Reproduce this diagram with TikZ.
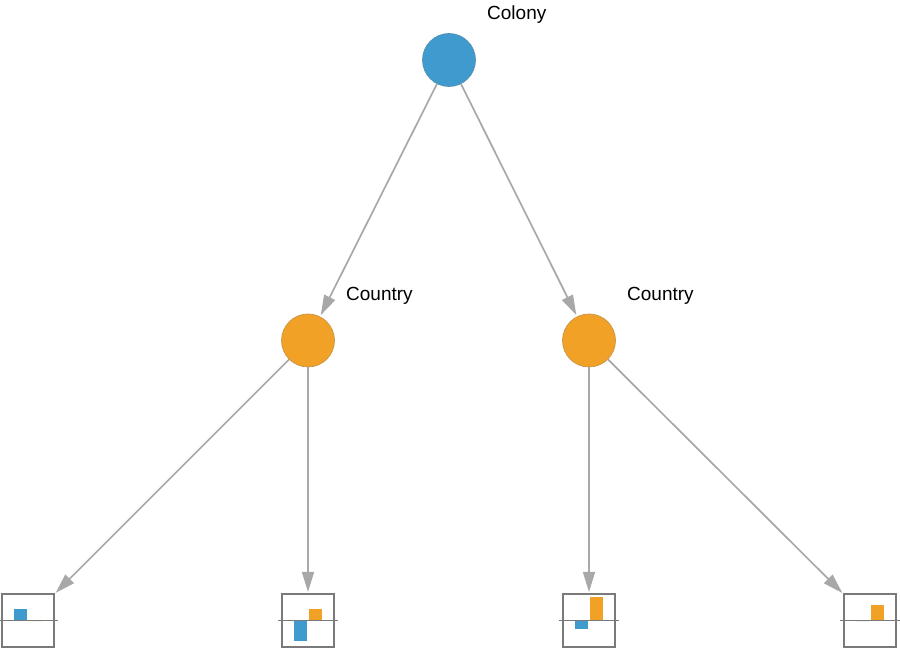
\documentclass[tikz,border=0pt]{standalone}
\usepackage{fontspec}
\setmainfont{Liberation Sans}
\usepackage{tikz}
\usepackage{xcolor}
\usetikzlibrary{
    arrows.meta,
    calc,
    positioning
}
\definecolor{colblue}{HTML}{3F9ACD}
\definecolor{colorange}{HTML}{F2A127}
\definecolor{edgegray}{HTML}{A8A8A8}
\definecolor{boxgray}{HTML}{7A7A7A}

\begin{document}
\begin{tikzpicture}[x=1pt, y=1pt,
    every node/.style={font=\fontsize{19}{22}\selectfont},
    unit/.style={circle, draw=#1!65!gray, line width=0.7pt, fill=#1, minimum size=53pt, inner sep=0pt},
    leaf/.style={draw=boxgray, line width=1.1pt, minimum width=52pt, minimum height=53pt, inner sep=0pt},
    lbl/.style={inner sep=0pt},
    link/.style={draw=edgegray, line width=1.7pt, shorten >=1.5pt, -{Triangle[length=20pt, width=12pt]}}]
                        \useasboundingbox (0, 0) rectangle (900, 651);

                        \node[unit=colblue] (colony) at (449, 591) {};
                        \node[lbl, above right=17pt and 19pt of colony.north east] (colonylbl) {Colony};

                        \node[unit=colorange] (countryA) at (308, 310.5) {};
                        \node[lbl, above right=17pt and 19pt of countryA.north east] (countryAlbl) {Country};
                        \node[unit=colorange] (countryB) at (589, 310.5) {};
                        \node[lbl, above right=17pt and 19pt of countryB.north east] (countryBlbl) {Country};

                        % leaves with their two bars (blue left, orange right)
                        \foreach \name/\x/\hb/\ho in {leafA/28/11/0, leafB/308/-20/11, leafC/589/-8/23, leafD/870/0/15} {
                            \node[leaf] (\name) at (\x, 30.5) {};
                            \fill[colblue] ($(\name.center)+(-14, 0)$) rectangle ++(13, \hb);
                            \fill[colorange] ($(\name.center)+(1, 0)$) rectangle ++(13, \ho);
                            \draw[boxgray, line width=1.1pt] ($(\name.west)+(-3, 0)$) -- ($(\name.east)+(3, 0)$);
                        }

                        \draw
                        (colony) edge[link] (countryA)
                        (colony) edge[link] (countryB)
                        (countryA) edge[link] (leafA)
                        (countryA) edge[link] (leafB)
                        (countryB) edge[link] (leafC)
                        (countryB) edge[link] (leafD);
                    \end{tikzpicture}
\end{document}
